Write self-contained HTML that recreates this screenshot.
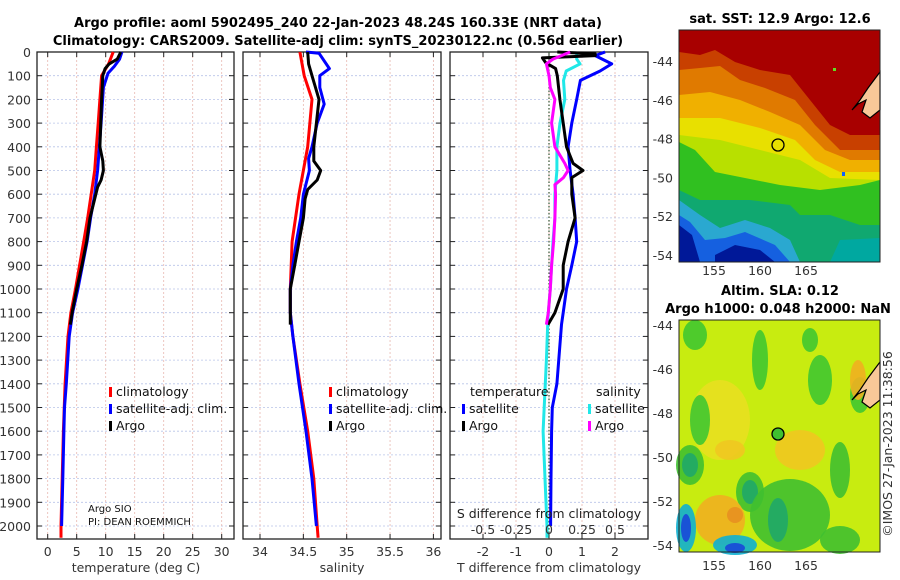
<!DOCTYPE html>
<html><head><meta charset="utf-8">
<style>
html,body{margin:0;padding:0;background:#fff;}
svg{display:block;font-family:"DejaVu Sans","Liberation Sans",sans-serif;}
</style></head>
<body>
<svg id="fig" width="900" height="580" viewBox="0 0 900 580" xmlns="http://www.w3.org/2000/svg">
<text x="338" y="27" text-anchor="middle" font-size="13" font-weight="bold">Argo profile: aoml 5902495_240 22-Jan-2023 48.24S 160.33E (NRT data)</text>
<text x="338" y="45" text-anchor="middle" font-size="13" font-weight="bold">Climatology: CARS2009. Satellite-adj clim: synTS_20230122.nc (0.56d earlier)</text>
<g id="panels"></g>
<g id="maps"></g>
</svg>
<script>
// ---------- DATA ----------
const depthTicks = [0,100,200,300,400,500,600,700,800,900,1000,1100,1200,1300,1400,1500,1600,1700,1800,1900,2000];
const tempTicks = [0,5,10,15,20,25,30];
const salTicks = [34,34.5,35,35.5,36];
const tdiffTicks = [-2,-1,0,1,2];
const sdiffTicks = [-0.5,-0.25,0,0.25,0.5];

const tClimDepth = [0,50,100,200,300,400,500,600,700,800,900,1000,1100,1200,1400,1600,1800,2000,2050];
const tClimVal   = [11.3,10.5,9.3,9.0,8.7,8.4,8.1,7.5,6.9,6.2,5.5,4.8,4.0,3.5,3.0,2.7,2.5,2.3,2.3];
const tSatDepth  = [0,30,60,90,150,300,500,600,700,800,900,1000,1100,1200,1400,1500,1600,1800,2000];
const tSatVal    = [12.8,12.4,11.5,10.4,9.6,9.2,8.6,8.1,7.4,6.8,6.0,5.2,4.3,3.7,3.2,2.9,2.8,2.6,2.4];
const tArgoDepth = [0,30,50,70,100,200,400,460,500,540,570,700,800,900,1000,1100,1150];
const tArgoVal   = [12.6,12.0,10.6,9.9,9.5,9.3,9.0,9.5,9.6,9.2,8.6,7.3,6.7,5.9,5.0,4.2,3.9];

const sClimDepth = [0,100,200,400,600,800,1000,1100,1200,1400,1600,1800,2000,2050];
const sClimVal   = [34.46,34.51,34.60,34.55,34.45,34.37,34.35,34.35,34.38,34.46,34.55,34.62,34.66,34.67];
const sSatDepth  = [0,5,70,100,150,220,300,400,450,500,600,700,800,900,1000,1100,1200,1400,1600,1800,2000];
const sSatVal    = [34.53,34.68,34.80,34.69,34.69,34.74,34.66,34.60,34.56,34.57,34.50,34.47,34.42,34.38,34.35,34.35,34.38,34.45,34.53,34.60,34.65];
const sArgoDepth = [0,50,100,150,200,300,400,460,500,540,580,620,700,800,900,1000,1100,1150];
const sArgoVal   = [34.55,34.56,34.60,34.64,34.68,34.65,34.62,34.62,34.70,34.66,34.55,34.52,34.50,34.45,34.40,34.35,34.35,34.35];

const dTSatDepth = [0,15,50,80,120,200,300,400,500,600,700,800,900,1000,1100,1150,1400,1500,1600,1800,2000];
const dTSatVal   = [1.7,1.4,1.9,1.55,0.95,0.84,0.69,0.58,0.64,0.73,0.79,0.84,0.69,0.53,0.43,0.38,0.24,0.1,0.08,0.06,0.05];
const dTArgoDepth = [0,8,15,25,45,70,100,200,300,400,470,500,530,600,700,800,900,1000,1100,1150];
const dTArgoVal   = [0.25,1.4,1.4,-0.2,-0.1,0.2,0.25,0.33,0.43,0.53,0.73,1.03,0.69,0.69,0.79,0.58,0.43,0.43,0.18,-0.03];
const dSSatDepth = [0,30,50,80,120,200,300,400,500,600,700,800,900,1000,1100,1150,1300,1600,1800,2000,2050];
const dSSatVal   = [0.21,0.21,0.235,0.13,0.11,0.12,0.083,0.06,0.06,0.045,0.045,0.03,0.02,0.01,-0.005,-0.01,-0.02,-0.045,-0.03,-0.015,-0.015];
const dSArgoDepth = [0,30,50,100,150,200,300,400,470,500,530,560,600,700,800,900,1000,1100,1150];
const dSArgoVal   = [0.16,0.03,-0.02,0.0,0.01,0.045,0.02,0.045,0.12,0.145,0.11,0.045,0.05,0.045,0.035,0.02,0.01,-0.005,-0.02];

// ---------- DRAW ----------
const NS="http://www.w3.org/2000/svg";
const root=document.getElementById('panels');
function mk(tag,attrs,parent){const e=document.createElementNS(NS,tag);for(const k in attrs)e.setAttribute(k,attrs[k]);(parent||root).appendChild(e);return e;}
const Y0=52, PY=0.237, BOT=539;
const yS = d => Y0 + d*PY;
const P1={l:37,r:234}, P2={l:243,r:441}, P3={l:450,r:648};
const xT = v => 47.7 + v*5.8;
const xS = v => 260 + (v-34)*86.7;
const xDT = v => 549 + v*33;
const xDS = v => 549 + v*132;

function panelFrame(P,name,xTicks,xf,grid){
  const g=mk('g',{});
  
  
  for(const d of depthTicks){
    const l=mk('line',{x1:P.l,x2:P.r,y1:yS(d),y2:yS(d),stroke:'#b8c4e8','stroke-width':0.8,'stroke-dasharray':'2,2'},g);
    
    
    mk('line',{x1:P.l,x2:P.l+5,y1:yS(d),y2:yS(d),stroke:'#222','stroke-width':1},g);
    mk('line',{x1:P.r-5,x2:P.r,y1:yS(d),y2:yS(d),stroke:'#222','stroke-width':1},g);
  }
  for(const v of grid){
    const l=mk('line',{x1:xf(v),x2:xf(v),y1:Y0,y2:BOT,stroke:'#e8b8b0','stroke-width':0.8,'stroke-dasharray':'2,2'},g);
    
    
  }
  for(const v of xTicks){
    mk('line',{x1:xf(v),x2:xf(v),y1:BOT-5,y2:BOT,stroke:'#222'},g);
    mk('line',{x1:xf(v),x2:xf(v),y1:Y0,y2:Y0+5,stroke:'#222'},g);
  }
  const fr=mk('rect',{x:P.l,y:Y0,width:P.r-P.l,height:BOT-Y0,fill:'none',stroke:'#222','stroke-width':1.3},g);
  
  
  return g;
}
function tickLabels(vals,xf,y,name,fmt){
  for(const v of vals){
    const t=mk('text',{x:xf(v),y:y,'text-anchor':'middle','font-size':12.5,fill:'#333'});
    
    
    t.textContent=fmt?fmt(v):String(v);
  }
}
function series(ds,vs,xf,color,name,w){
  const pts=ds.map((d,i)=>xf(vs[i]).toFixed(1)+','+yS(d).toFixed(1)).join(' ');
  const p=mk('polyline',{points:pts,fill:'none',stroke:color,'stroke-width':w||3,'stroke-linejoin':'round'});
  
  
}
function txt(x,y,s,size,name,anchor,extra){
  const t=mk('text',Object.assign({x:x,y:y,'font-size':size,fill:'#111','text-anchor':anchor||'start'},extra||{}));
  
  
  t.textContent=s;return t;
}
function legendEntry(x,y,color,label,name){
  const r=mk('rect',{x:x,y:y-9,width:3,height:10,fill:color});
  
  
  txt(x+7,y,label,12.5,name);
}

// Panel 1
panelFrame(P1,'temperature-panel',tempTicks,xT,tempTicks);
for(const d of depthTicks){ txt(31,yS(d)+5,String(d),12.5,'y-tick-label','end',{fill:'#333'}); }
tickLabels(tempTicks,xT,556,'temperature-x-tick');
txt(136,572,'temperature (deg C)',12.5,'temperature-x-axis-title','middle',{fill:'#333'});
series(tClimDepth,tClimVal,xT,'#f00','temp-climatology-line');
series(tSatDepth,tSatVal,xT,'#00f','temp-satellite-line');
series(tArgoDepth,tArgoVal,xT,'#000','temp-argo-line');
legendEntry(109,396,'#f00','climatology','legend-climatology');
legendEntry(109,413,'#00f','satellite-adj. clim.','legend-satellite-adj');
legendEntry(109,430,'#000','Argo','legend-argo');
txt(88,512,'Argo SIO',10,'argo-institution-label');
txt(88,525,'PI: DEAN ROEMMICH',10,'pi-name-label');

// Panel 2
panelFrame(P2,'salinity-panel',salTicks,xS,salTicks);
tickLabels(salTicks,xS,556,'salinity-x-tick');
txt(342,572,'salinity',12.5,'salinity-x-axis-title','middle',{fill:'#333'});
series(sClimDepth,sClimVal,xS,'#f00','sal-climatology-line');
series(sSatDepth,sSatVal,xS,'#00f','sal-satellite-line');
series(sArgoDepth,sArgoVal,xS,'#000','sal-argo-line');
legendEntry(329,396,'#f00','climatology','legend-climatology');
legendEntry(329,413,'#00f','satellite-adj. clim.','legend-satellite-adj');
legendEntry(329,430,'#000','Argo','legend-argo');

// Panel 3
panelFrame(P3,'difference-panel',tdiffTicks,xDT,tdiffTicks);
{const z=mk('line',{x1:549,x2:549,y1:Y0,y2:BOT,stroke:'#335533','stroke-width':1.2,'stroke-dasharray':'1.5,2'});
}
tickLabels(tdiffTicks,xDT,556,'tdiff-x-tick');
txt(549,572,'T difference from climatology',12.5,'tdiff-x-axis-title','middle',{fill:'#333'});
series(dSSatDepth,dSSatVal,xDS,'#20e8e8','sdiff-satellite-line');
series(dTSatDepth,dTSatVal,xDT,'#00f','tdiff-satellite-line');
series(dTArgoDepth,dTArgoVal,xDT,'#000','tdiff-argo-line');
series(dSArgoDepth,dSArgoVal,xDS,'#f0f','sdiff-argo-line');
txt(470,396,'temperature',12.5,'legend-temperature-header');
txt(596,396,'salinity',12.5,'legend-salinity-header');
legendEntry(462,413,'#00f','satellite','legend-t-satellite');
legendEntry(462,430,'#000','Argo','legend-t-argo');
legendEntry(588,413,'#20e8e8','satellite','legend-s-satellite');
legendEntry(588,430,'#f0f','Argo','legend-s-argo');
txt(549,518,'S difference from climatology',12.5,'sdiff-axis-title','middle',{fill:'#222'});
tickLabels(sdiffTicks,xDS,534,'sdiff-tick');

// ---------- MAPS ----------
const M=document.getElementById('maps');
function mm(tag,attrs,name){const e=mk(tag,attrs,M);return e;}
const MX0=679,MX1=880;
const latLabels=[-44,-46,-48,-50,-52,-54];
const lonLabels=[155,160,165];
const lonX = v => 760 + (v-160)*9.2;
// top map
mm('text',{x:780,y:23,'text-anchor':'middle','font-size':13,'font-weight':'bold'},'sst-map-title').textContent='sat. SST: 12.9 Argo: 12.6';
mm('rect',{x:MX0,y:30,width:MX1-MX0,height:232,fill:'#a80000'},'sst-map-background');
const sstLayers=[
 ['#c84000','679,52 700,55 715,50 735,62 760,70 790,75 810,100 830,125 850,135 880,135 880,262 679,262'],
 ['#e07a00','679,70 700,68 720,66 740,80 765,88 795,100 815,125 840,150 880,150 880,262 679,262'],
 ['#f0b000','679,95 710,92 740,100 770,112 800,125 825,150 850,160 880,160 880,262 679,262'],
 ['#e8e000','679,118 720,118 760,128 795,140 815,160 840,172 880,172 880,262 679,262'],
 ['#b8e000','679,135 720,140 760,150 800,160 830,178 880,180 880,262 679,262'],
 ['#30c020','679,142 695,150 715,172 745,178 780,185 820,190 860,185 880,180 880,262 679,262'],
 ['#10a870','679,190 700,200 720,200 750,200 790,205 800,215 830,215 860,225 880,225 880,262 679,262'],
 ['#2aa8d0','679,200 700,215 720,228 745,220 770,228 790,240 800,262 679,262'],
 ['#1560e0','679,215 690,222 705,240 725,238 745,232 775,245 790,262 679,262'],
 ['#001898','679,225 692,235 700,262 679,262'],
 ['#001898','715,255 735,245 760,250 775,262 715,262'],
 ['#00a8a0','840,240 880,238 880,262 830,262']
];
sstLayers.forEach(l=>mm('polygon',{points:l[1],fill:l[0]},'sst-region'));
mm('polygon',{points:'880,72 868,88 860,100 852,110 858,104 866,100 862,112 870,118 880,110',fill:'#f8c898',stroke:'#000','stroke-width':1.2},'land-new-zealand');
mm('circle',{cx:778,cy:145,r:6,fill:'none',stroke:'#000','stroke-width':1.3},'argo-location-marker');
mm('rect',{x:833,y:68,width:3,height:3,fill:'#60e020'},'sst-pixel');
mm('rect',{x:842,y:172,width:3,height:4,fill:'#1060ff'},'sst-pixel');
mm('rect',{x:MX0,y:30,width:MX1-MX0,height:232,fill:'none',stroke:'#222','stroke-width':1},'sst-map-frame');
latLabels.forEach((v,i)=>{mm('text',{x:673,y:66+i*38.8,'text-anchor':'end','font-size':12.5,fill:'#333'},'lat-tick').textContent=String(v);});
lonLabels.forEach(v=>{mm('text',{x:lonX(v),y:275,'text-anchor':'middle','font-size':12.5,fill:'#333'},'lon-tick').textContent=String(v);});
// bottom map
mm('text',{x:780,y:295,'text-anchor':'middle','font-size':13,'font-weight':'bold'},'sla-map-title').textContent='Altim. SLA: 0.12';
mm('text',{x:778,y:313,'text-anchor':'middle','font-size':13,'font-weight':'bold'},'sla-map-subtitle').textContent='Argo h1000: 0.048 h2000: NaN';
mm('rect',{x:MX0,y:320,width:MX1-MX0,height:232,fill:'#c8ec10'},'sla-map-background');
const slaBlobs=[
 ['#e8e020',720,420,30,40],['#f0c820',800,450,25,20],['#f0c820',730,450,15,10],
 ['#40c830',695,335,12,15],['#40c830',700,420,10,25],['#40c830',760,360,8,30],['#40c830',820,380,12,25],['#40c830',860,395,10,18],['#40c830',810,340,8,12],
 ['#40c030',690,465,14,20],['#20a868',690,465,8,12],['#40c030',750,492,14,20],['#20a868',750,492,8,12],
 ['#40c030',790,515,40,36],['#20a868',778,520,10,22],['#40c030',840,470,10,28],
 ['#f0b020',720,520,25,25],['#e89020',735,515,8,8],['#f0b020',858,380,8,20],
 ['#10b0d0',686,528,10,24],['#1848d8',686,528,5,14],['#10b0d0',735,545,22,10],['#1848d8',735,548,10,5],
 ['#40c030',840,540,20,14]
];
slaBlobs.forEach(b=>mm('ellipse',{cx:b[1],cy:b[2],rx:b[3],ry:b[4],fill:b[0],opacity:0.9},'sla-region'));
mm('polygon',{points:'880,362 868,378 860,390 852,400 858,394 866,390 862,402 870,408 880,400',fill:'#f8c898',stroke:'#000','stroke-width':1.2},'land-new-zealand');
mm('circle',{cx:778,cy:434,r:6,fill:'#40c030',stroke:'#000','stroke-width':1.3},'argo-location-marker');
mm('rect',{x:MX0,y:320,width:MX1-MX0,height:232,fill:'none',stroke:'#222','stroke-width':1},'sla-map-frame');
latLabels.forEach((v,i)=>{mm('text',{x:673,y:330+i*44,'text-anchor':'end','font-size':12.5,fill:'#333'},'lat-tick').textContent=String(v);});
lonLabels.forEach(v=>{mm('text',{x:lonX(v),y:570,'text-anchor':'middle','font-size':12.5,fill:'#333'},'lon-tick').textContent=String(v);});
mm('text',{x:0,y:0,'text-anchor':'middle','font-size':12.5,fill:'#333',transform:'translate(892,444) rotate(-90)'},'imos-timestamp').textContent='©IMOS 27-Jan-2023 11:38:56';
</script>
</body></html>
